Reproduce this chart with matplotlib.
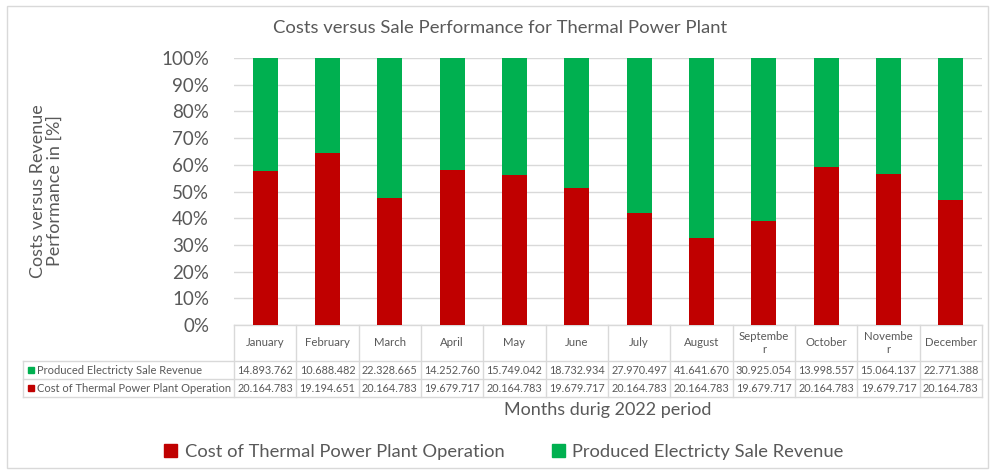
import matplotlib
matplotlib.use("Agg")
import matplotlib.pyplot as plt
import matplotlib.transforms as mtransforms
from matplotlib.patches import Patch, Rectangle
import numpy as np

plt.rcParams['font.family'] = ['Lato', 'DejaVu Sans']

months = ["January", "February", "March", "April", "May", "June", "July",
          "August", "Septembe\nr", "October", "Novembe\nr", "December"]
revenue = [14893762, 10688482, 22328665, 14252760, 15749042, 18732934,
           27970497, 41641670, 30925054, 13998557, 15064137, 22771388]
cost = [20164783, 19194651, 20164783, 19679717, 20164783, 19679717,
        20164783, 20164783, 19679717, 20164783, 19679717, 20164783]

cost_name = "Cost of Thermal Power Plant Operation"
rev_name = "Produced Electricty Sale Revenue"

RED = "#C00000"
GREEN = "#00B050"
TXT = "#595959"
GRID = "#D9D9D9"

W, H = 993, 473
fig = plt.figure(figsize=(W / 100, H / 100), dpi=100)

def fy(py):
    return 1 - py / H

# plot area in pixels: x 234..982, y 58..325
ax = fig.add_axes([234 / W, fy(325), (982 - 234) / W, (325 - 58) / H])

rev = np.array(revenue, dtype=float)
cst = np.array(cost, dtype=float)
tot = rev + cst
cost_pct = cst / tot * 100
rev_pct = rev / tot * 100

x = np.arange(len(months))
ax.bar(x, cost_pct, width=0.4, color=RED, zorder=3)
ax.bar(x, rev_pct, width=0.4, bottom=cost_pct, color=GREEN, zorder=3)

ax.set_xlim(-0.5, len(months) - 0.5)
ax.set_ylim(0, 100)
ax.set_yticks(range(0, 101, 10))
ax.set_yticklabels([f"{v}%" for v in range(0, 101, 10)], fontsize=13.5, color=TXT)
ax.tick_params(axis='y', length=0, pad=18)
ax.set_xticks([])
ax.grid(axis='y', color=GRID, linewidth=1, zorder=0)
for s in ax.spines.values():
    s.set_visible(False)

# title and axis labels
fig.text(500 / W, fy(28), "Costs versus Sale Performance for Thermal Power Plant",
         ha='center', va='center', fontsize=13.3, color=TXT)
fig.text(46 / W, fy(191), "Costs versus Revenue\nPerformance in [%]",
         ha='center', va='center', rotation=90, fontsize=13, color=TXT,
         linespacing=1.05)
fig.text(608 / W, fy(410), "Months durig 2022 period",
         ha='center', va='center', fontsize=13, color=TXT)

# data table under the plot
bt = mtransforms.blended_transform_factory(ax.transData, fig.transFigure)
ft = fig.transFigure
xl = -0.5
xr = len(months) - 0.5
left_px = 23
lc = dict(color=GRID, linewidth=1, clip_on=False)

ax.plot([xl, xr], [fy(325), fy(325)], transform=bt, **lc)
for yy in (361, 379, 397):
    fig.add_artist(plt.Line2D([left_px / W, 982 / W], [fy(yy), fy(yy)],
                              transform=ft, color=GRID, linewidth=1))
for i in range(len(months) + 1):
    ax.plot([i - 0.5, i - 0.5], [fy(325), fy(397)], transform=bt, **lc)
fig.add_artist(plt.Line2D([left_px / W, left_px / W], [fy(361), fy(397)],
                          transform=ft, color=GRID, linewidth=1))

def fmt(v):
    return f"{v:,}".replace(",", ".")

for i, m in enumerate(months):
    ax.text(i, fy(343), m, transform=bt, ha='center', va='center',
            fontsize=8.2, color=TXT, linespacing=1.3)
    ax.text(i, fy(370), fmt(revenue[i]), transform=bt, ha='center',
            va='center', fontsize=7.8, color=TXT)
    ax.text(i, fy(388), fmt(cost[i]), transform=bt, ha='center',
            va='center', fontsize=7.8, color=TXT)

for yy, name, col in ((370, rev_name, GREEN), (388, cost_name, RED)):
    fig.add_artist(Rectangle((28 / W, fy(yy + 3)), 6 / W, 6 / H,
                             transform=ft, color=col))
    fig.text(37 / W, fy(yy), name, ha='left', va='center',
             fontsize=8.0, color=TXT)

# legend
handles = [Patch(color=RED, label=cost_name), Patch(color=GREEN, label=rev_name)]
fig.legend(handles=handles, loc='center', bbox_to_anchor=(504 / W, fy(452)),
           ncol=2, frameon=False, fontsize=13.2, handlelength=0.7,
           handleheight=0.7, handletextpad=0.4, columnspacing=2.6,
           labelcolor=TXT)

# chart border
fig.add_artist(Rectangle((7 / W, fy(468)), (988 - 7) / W, (468 - 6) / H,
                         transform=ft, fill=False, edgecolor=GRID, linewidth=1))

fig.savefig("out.png", dpi=100)
